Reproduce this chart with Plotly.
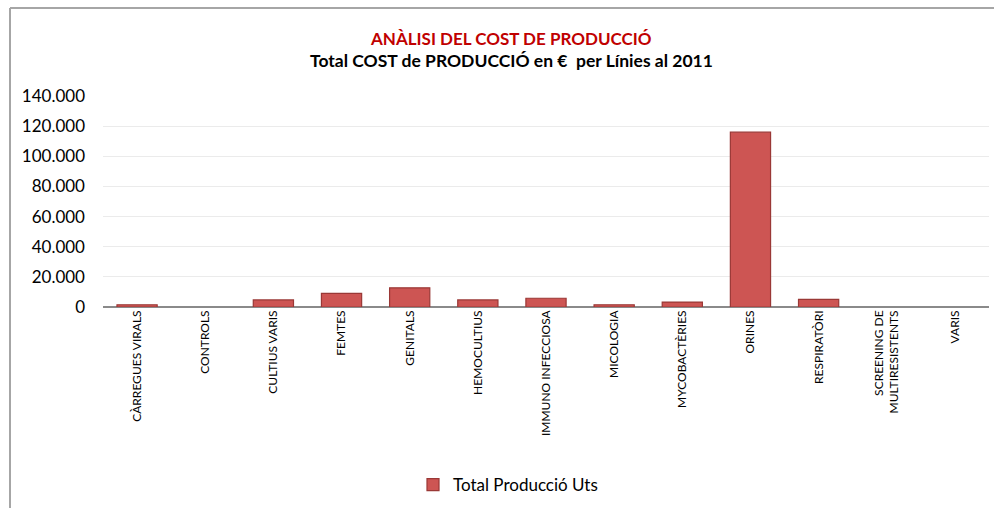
import plotly.graph_objects as go

categories = ["CÀRREGUES VIRALS", "CONTROLS", "CULTIUS VARIS", "FEMTES", "GENITALS",
              "HEMOCULTIUS", "IMMUNO INFECCIOSA", "MICOLOGIA", "MYCOBACTÈRIES",
              "ORINES", "RESPIRATÒRI", "SCREENING DE<br>MULTIRESISTENTS", "VARIS"]
values = [1500, 0, 4700, 9100, 12700, 4700, 5800, 1500, 3300, 116000, 5100, 0, 0]
series_name = "Total Producció Uts"
y_ticks = [0, 20000, 40000, 60000, 80000, 100000, 120000, 140000]

FONT = "Lato"

# hide outline on empty bars so that zero values draw nothing
line_colors = ["#9a3836" if v > 0 else "rgba(0,0,0,0)" for v in values]

fig = go.Figure()
fig.add_trace(go.Bar(
    x=categories, y=values, name=series_name,
    marker=dict(color="#cd5553", line=dict(color=line_colors, width=1.2)),
    showlegend=True,
))

# plot area geometry (px)
L, R, T, B = 103, 989, 96, 307
W, H = R - L, B - T

def px_x(x):
    return (x - L) / W

def px_y(y):
    return (B - y) / H

fig.update_layout(
    width=994, height=508,
    margin=dict(l=L, r=994 - R, t=T, b=508 - B),
    paper_bgcolor="white", plot_bgcolor="white",
    separators=",.",
    font=dict(family=FONT, color="#000000"),
    bargap=0.41,
    showlegend=True,
    legend=dict(orientation="h", x=px_x(508), y=px_y(485), xanchor="center", yanchor="middle",
                font=dict(size=17, family=FONT), bgcolor="rgba(0,0,0,0)"),
    xaxis=dict(type="category", tickangle=-90, tickfont=dict(size=12, family=FONT),
               showgrid=False, showline=False, ticks="", zeroline=False),
    yaxis=dict(range=[0, 140000], tickvals=y_ticks, tickformat=",d",
               tickfont=dict(size=17, family=FONT), showgrid=True, gridcolor="#ebebeb",
               gridwidth=1, zeroline=True, zerolinecolor="#8a8a8a", zerolinewidth=2,
               showline=False, ticks="", ticklabelstandoff=17),
    annotations=[
        dict(text="<b>ANÀLISI DEL COST DE PRODUCCIÓ</b>", x=px_x(511), y=px_y(38),
             xref="paper", yref="paper", showarrow=False, xanchor="center", yanchor="middle",
             font=dict(size=17, color="#c00000", family=FONT)),
        dict(text="<b>Total COST de PRODUCCIÓ en €  per Línies al 2011</b>", x=px_x(511), y=px_y(60),
             xref="paper", yref="paper", showarrow=False, xanchor="center", yanchor="middle",
             font=dict(size=17.5, color="#000000", family=FONT)),
    ],
    shapes=[
        dict(type="line", xref="paper", yref="paper", x0=px_x(10), x1=px_x(1000),
             y0=px_y(8), y1=px_y(8), line=dict(color="#a6a6a6", width=2)),
        dict(type="line", xref="paper", yref="paper", x0=px_x(10), x1=px_x(10),
             y0=px_y(8), y1=px_y(520), line=dict(color="#a6a6a6", width=2)),
    ],
)

fig.write_html("out.html")
